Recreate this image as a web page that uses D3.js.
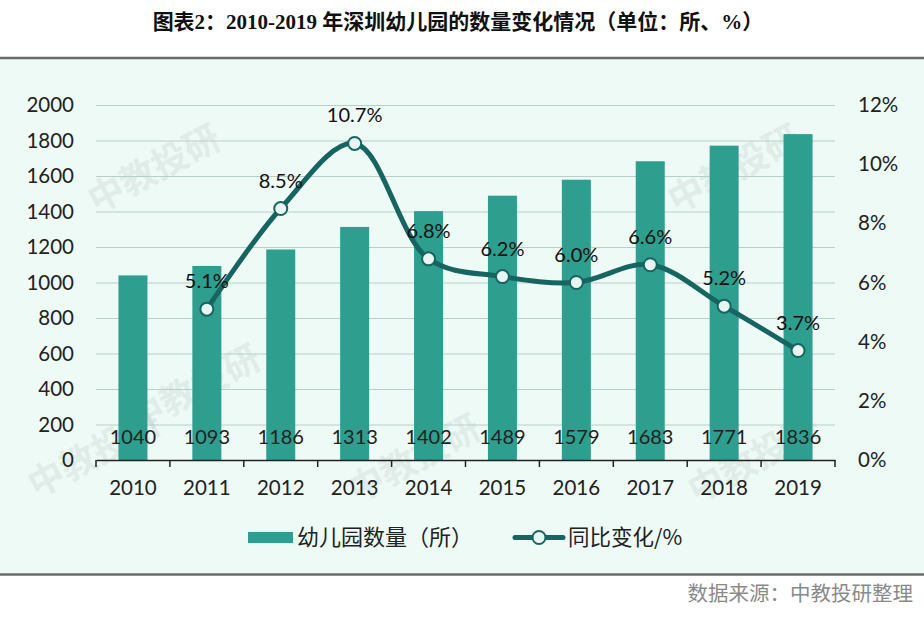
<!DOCTYPE html>
<html><head><meta charset="utf-8">
<script src="https://cdn.jsdelivr.net/npm/d3@7"></script>
<style>
html,body{margin:0;padding:0;background:#fff;}
svg{display:block;}
</style></head>
<body>
<script>
const years = ["2010","2011","2012","2013","2014","2015","2016","2017","2018","2019"];
const counts = [1040,1093,1186,1313,1402,1489,1579,1683,1771,1836];
const growth = [null,5.1,8.5,10.7,6.8,6.2,6.0,6.6,5.2,3.7];
const leftTicks = [0,200,400,600,800,1000,1200,1400,1600,1800,2000];
const rightTicks = [0,2,4,6,8,10,12];
const titleText = "图表2：2010-2019 年深圳幼儿园的数量变化情况（单位：所、%）";
const legendBar = "幼儿园数量（所）";
const legendLine = "同比变化/%";
const sourceText = "数据来源：中教投研整理";

const W = 924, H = 618;
const barColor = "#2e9e8e", lineColor = "#166560", bg = "#eefaf6";
const numFont = "Lato, 'Noto Sans', sans-serif";
const cjkFont = "'Noto Sans CJK SC', sans-serif";

const svg = d3.select("body").append("svg").attr("width", W).attr("height", H);

// background & borders
svg.append("rect").attr("x",0).attr("y",58).attr("width",W).attr("height",516).attr("fill",bg);
svg.append("line").attr("x1",0).attr("x2",W).attr("y1",58).attr("y2",58).attr("stroke","#6b6b6b").attr("stroke-width",2.5);
svg.append("line").attr("x1",0).attr("x2",W).attr("y1",574.5).attr("y2",574.5).attr("stroke","#6b6b6b").attr("stroke-width",2.5);

// title
svg.append("text").attr("x",458).attr("y",29).attr("text-anchor","middle")
  .attr("font-family","'Liberation Serif', 'Noto Sans CJK SC', serif").attr("font-weight","bold")
  .attr("font-size",21).attr("fill","#111").text(titleText);

// source
svg.append("text").attr("x",913).attr("y",601).attr("text-anchor","end")
  .attr("font-family",cjkFont).attr("font-size",20.5).attr("fill","#8a8a8a").text(sourceText);

const xb = d3.scaleBand().domain(years).range([96,835]);
const yL = d3.scaleLinear().domain([0,2000]).range([460,105]);
const yR = d3.scaleLinear().domain([0,12]).range([460,105]);

// watermarks
const wm = [[160,180],[740,180],[100,465],[420,470],[760,470],[200,400]];
svg.append("g").selectAll("text").data(wm).join("text")
  .attr("transform",d=>`translate(${d[0]},${d[1]}) rotate(-28)`)
  .attr("text-anchor","middle").attr("font-family",cjkFont).attr("font-weight","bold")
  .attr("font-size",36).attr("fill","#000").attr("opacity",0.05).text("中教投研");

// gridlines
svg.append("g").selectAll("line").data(leftTicks.slice(1)).join("line")
  .attr("x1",96).attr("x2",835).attr("y1",d=>yL(d)+0.5).attr("y2",d=>yL(d)+0.5)
  .attr("stroke","#b9cfc9").attr("stroke-width",1.2);

// bars
svg.append("g").selectAll("rect").data(counts).join("rect")
  .attr("x",(d,i)=>xb(years[i])+xb.bandwidth()/2-14.5).attr("width",29)
  .attr("y",d=>yL(d)).attr("height",d=>yL(0)-yL(d)).attr("fill",barColor);

// bar labels
svg.append("g").selectAll("text").data(counts).join("text")
  .attr("x",(d,i)=>xb(years[i])+xb.bandwidth()/2).attr("y",444)
  .attr("text-anchor","middle").attr("font-family",numFont).attr("font-size",20).attr("fill","#222")
  .text(d=>d);

// left axis
const axL = d3.axisLeft(yL).tickValues(leftTicks).tickFormat(d3.format("d")).tickSize(0).tickPadding(22);
const gL = svg.append("g").attr("transform","translate(96,0)").call(axL);
gL.select(".domain").remove();
gL.selectAll("text").attr("font-family",numFont).attr("font-size",20.5).attr("fill","#222");

// right axis
const axR = d3.axisRight(yR).tickValues(rightTicks).tickFormat(d=>d+"%").tickSize(0).tickPadding(23);
const gR = svg.append("g").attr("transform","translate(835,0)").call(axR);
gR.select(".domain").remove();
gR.selectAll("text").attr("font-family",numFont).attr("font-size",20.5).attr("fill","#222");

// bottom axis
const axB = d3.axisBottom(xb).tickSize(0).tickPadding(20);
const gB = svg.append("g").attr("transform","translate(0,460)").call(axB);
gB.select(".domain").attr("stroke","#222").attr("stroke-width",1.5);
gB.selectAll("text").attr("font-family",numFont).attr("font-size",20.5).attr("fill","#222");
svg.append("g").selectAll("line").data(d3.range(11)).join("line")
  .attr("x1",i=>96+i*xb.step()).attr("x2",i=>96+i*xb.step()).attr("y1",460).attr("y2",467)
  .attr("stroke","#222").attr("stroke-width",1.5);

// line
const pts = growth.map((v,i)=>({v,i})).filter(d=>d.v!==null);
const cx = d=>xb(years[d.i])+xb.bandwidth()/2;
const line = d3.line().x(cx).y(d=>yR(d.v)).curve(d3.curveCatmullRom.alpha(0.5));
svg.append("path").datum(pts).attr("d",line).attr("fill","none")
  .attr("stroke",lineColor).attr("stroke-width",5).attr("stroke-linecap","round");
svg.append("g").selectAll("circle").data(pts).join("circle")
  .attr("cx",cx).attr("cy",d=>yR(d.v)).attr("r",6.5)
  .attr("fill","#e8f6f3").attr("stroke",lineColor).attr("stroke-width",2);
svg.append("g").selectAll("text").data(pts).join("text")
  .attr("x",cx).attr("y",d=>yR(d.v)-21).attr("text-anchor","middle")
  .attr("font-family",numFont).attr("font-size",20).attr("fill","#111")
  .text(d=>d.v.toFixed(1)+"%");

// legend
const lg = svg.append("g");
lg.append("rect").attr("x",248).attr("y",532).attr("width",45).attr("height",11).attr("fill",barColor);
lg.append("text").attr("x",297).attr("y",545).attr("font-family",cjkFont).attr("font-size",22).attr("fill","#222").text(legendBar);
lg.append("line").attr("x1",515).attr("x2",563).attr("y1",537.5).attr("y2",537.5).attr("stroke",lineColor).attr("stroke-width",5).attr("stroke-linecap","round");
lg.append("circle").attr("cx",539).attr("cy",537.5).attr("r",6.5).attr("fill","#e8f6f3").attr("stroke",lineColor).attr("stroke-width",2);
lg.append("text").attr("x",568).attr("y",545).attr("font-family",cjkFont).attr("font-size",21.5).attr("fill","#222").text(legendLine);
</script>
</body></html>
